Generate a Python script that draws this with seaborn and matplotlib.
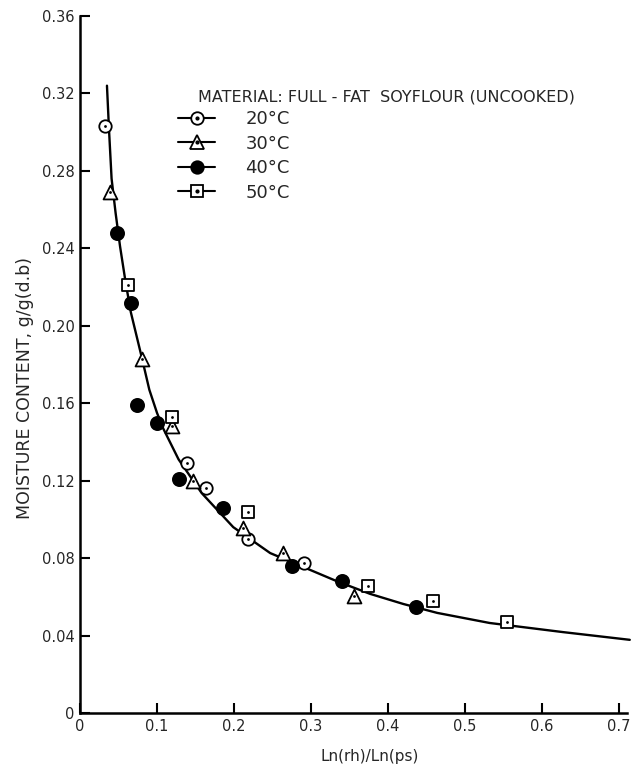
import matplotlib
matplotlib.use("Agg")
import matplotlib.pyplot as plt
import seaborn as sns
import pandas as pd
from matplotlib.lines import Line2D
from matplotlib.legend_handler import HandlerTuple

# ---- data ----
t20_x = [0.032, 0.139, 0.164, 0.218, 0.291]
t20_y = [0.303, 0.129, 0.116, 0.090, 0.0775]
t30_x = [0.039, 0.081, 0.119, 0.147, 0.212, 0.263, 0.356]
t30_y = [0.269, 0.183, 0.148, 0.120, 0.0955, 0.0826, 0.0604]
t40_x = [0.048, 0.066, 0.074, 0.100, 0.129, 0.186, 0.275, 0.340, 0.436]
t40_y = [0.248, 0.212, 0.159, 0.150, 0.121, 0.106, 0.076, 0.068, 0.055]
t50_x = [0.062, 0.119, 0.218, 0.374, 0.458, 0.555]
t50_y = [0.221, 0.153, 0.104, 0.0656, 0.058, 0.047]

# fitted curve
curve_x = [0.035, 0.0377, 0.041, 0.0463, 0.052, 0.059, 0.066, 0.080, 0.090, 0.100,
           0.108, 0.118, 0.128, 0.158, 0.199, 0.247, 0.290, 0.334, 0.377, 0.420,
           0.464, 0.532, 0.627, 0.714]
curve_y = [0.324, 0.301, 0.276, 0.258, 0.241, 0.223, 0.207, 0.184, 0.167, 0.155,
           0.147, 0.139, 0.131, 0.1136, 0.096, 0.0826, 0.0754, 0.0680, 0.0615, 0.0563,
           0.0517, 0.0465, 0.0418, 0.0378]

series_labels = ["20°C", "30°C", "40°C", "50°C"]
legend_title = "MATERIAL: FULL - FAT  SOYFLOUR (UNCOOKED)"
x_ticks = [0, 0.1, 0.2, 0.3, 0.4, 0.5, 0.6, 0.7]
x_ticklabels = ["0", "0.1", "0.2", "0.3", "0.4", "0.5", "0.6", "0.7"]
y_ticks = [0, 0.04, 0.08, 0.12, 0.16, 0.20, 0.24, 0.28, 0.32, 0.36]
y_ticklabels = ["0", "0.04", "0.08", "0.12", "0.16", "0.20", "0.24", "0.28", "0.32", "0.36"]
x_label = "Ln(rh)/Ln(ps)"
y_label = "MOISTURE CONTENT, g/g(d.b)"

sns.set_style("ticks")
plt.rcParams['font.family'] = ['DejaVu Sans']

fig = plt.figure(figsize=(6.32, 7.68), dpi=100)
ax = fig.add_axes([0.1266, 0.0716, 0.865, 0.9076])

# fitted curve
sns.lineplot(x=curve_x, y=curve_y, ax=ax, color="black", linewidth=1.7,
             sort=False, estimator=None, clip_on=False, zorder=2)
ax.lines[-1].set_solid_joinstyle("round")

styles = [
    (t20_x, t20_y, "o", "white", 80, True),
    (t30_x, t30_y, "^", "white", 100, True),
    (t40_x, t40_y, "o", "black", 90, False),
    (t50_x, t50_y, "s", "white", 75, True),
]
for xs, ys, mk, fc, s, dot in styles:
    df = pd.DataFrame({"x": xs, "y": ys})
    sns.scatterplot(data=df, x="x", y="y", ax=ax, marker=mk, s=s,
                    facecolor=fc, edgecolor="black", linewidth=1.3, zorder=3)
    if dot:
        sns.scatterplot(data=df, x="x", y="y", ax=ax, marker="o", s=4,
                        color="black", edgecolor="black", linewidth=0, zorder=4)

ax.set_xlim(0, 0.71)
ax.set_ylim(0, 0.36)
ax.set_xticks(x_ticks)
ax.set_xticklabels(x_ticklabels)
ax.set_yticks(y_ticks)
ax.set_yticklabels(y_ticklabels)
ax.tick_params(direction="in", length=7, width=1.5, labelsize=10.5, pad=4, color="black")
for side in ["top", "right"]:
    ax.spines[side].set_visible(False)
for side in ["left", "bottom"]:
    ax.spines[side].set_linewidth(1.8)
    ax.spines[side].set_color("black")

ax.set_xlabel(x_label, fontsize=11)
ax.set_ylabel(y_label, fontsize=12.5)
ax.xaxis.set_label_coords(0.53, -0.052)
ax.yaxis.set_label_coords(-0.085, 0.466)

# legend
handles = []
marker_specs = [("o", "white", True), ("^", "white", True), ("o", "black", False), ("s", "white", True)]
for mk, fc, dot in marker_specs:
    base = Line2D([], [], color="black", linewidth=1.5, marker=mk, markersize=9 if mk != "^" else 10,
                  markerfacecolor=fc, markeredgecolor="black", markeredgewidth=1.3)
    if dot:
        d = Line2D([], [], linestyle="none", marker="o", markersize=2, color="black")
        handles.append((base, d))
    else:
        handles.append(base)
fig.text(198 / 632, 1 - 97 / 768, legend_title, fontsize=11.5, va="center", ha="left")
fig.legend(handles, series_labels, loc="upper left", bbox_to_anchor=(162 / 632, 1 - 94 / 768),
           frameon=False, fontsize=13, handlelength=2.05, handletextpad=1.66,
           labelspacing=0.36, handler_map={tuple: HandlerTuple(ndivide=1)})

fig.savefig("out.png", dpi=100, facecolor="white")
